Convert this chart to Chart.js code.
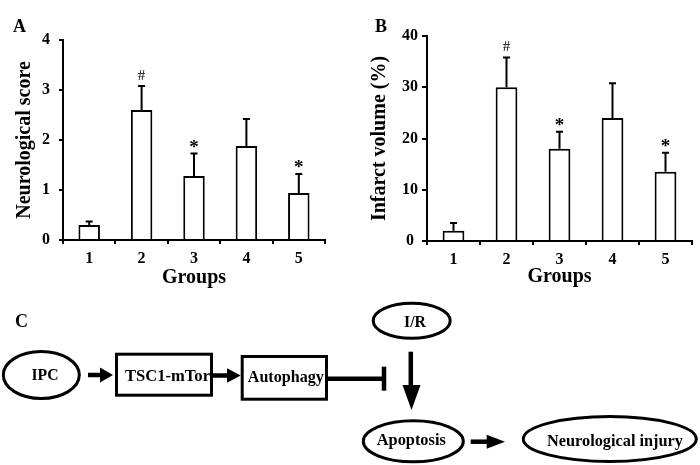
<!DOCTYPE html>
<html><head><meta charset="utf-8">
<script src="https://cdn.jsdelivr.net/npm/chart.js@4/dist/chart.umd.min.js"></script>
<style>
html,body{margin:0;padding:0;background:#fff;}
#wrap{position:relative;width:700px;height:465px;overflow:hidden;background:#fff;}
#chartA{position:absolute;left:0;top:0;}
#chartB{position:absolute;left:350px;top:0;}
#diagram{position:absolute;left:0;top:0;}
</style></head><body>
<div id="wrap">
<canvas id="chartA" width="340" height="300"></canvas>
<canvas id="chartB" width="350" height="300"></canvas>
<svg id="diagram" width="700" height="465" viewBox="0 0 700 465" font-family="'Liberation Serif','Times New Roman',serif" font-weight="bold">
  <text x="13" y="32" font-size="18">A</text>
  <text x="375" y="32" font-size="18">B</text>
  <text x="15" y="327" font-size="18">C</text>
  <g fill="none" stroke="#000" stroke-width="3">
    <ellipse cx="41.3" cy="375" rx="38" ry="23.5"/>
    <rect x="116.5" y="354.2" width="95" height="41"/>
    <rect x="242.2" y="356.5" width="84.3" height="42.7"/>
    <ellipse cx="411.7" cy="320.8" rx="38.5" ry="17.5"/>
    <ellipse cx="413.3" cy="441.3" rx="50" ry="20.5"/>
    <ellipse cx="609.8" cy="439" rx="86.5" ry="22.5"/>
  </g>
  <g stroke="#000" stroke-width="4.5">
    <line x1="88" y1="375" x2="102" y2="375"/>
    <line x1="213" y1="375.5" x2="229" y2="375.5"/>
    <line x1="328" y1="378.8" x2="384" y2="378.8"/>
    <line x1="384" y1="366.7" x2="384" y2="390.7"/>
    <line x1="410.8" y1="351.7" x2="410.8" y2="388"/>
    <line x1="470.7" y1="441.7" x2="489" y2="441.7"/>
  </g>
  <g fill="#000">
    <polygon points="100,367.5 113,375 100,382.5"/>
    <polygon points="227,368.3 240.7,375.5 227,382.7"/>
    <polygon points="402.5,385 420.5,385 411.5,410"/>
    <polygon points="486.7,434.7 505,441.7 486.7,448.7"/>
  </g>
  <g font-size="16" text-anchor="middle" fill="#000">
    <text x="45" y="380" textLength="27" lengthAdjust="spacingAndGlyphs">IPC</text>
    <text x="167.5" y="380.7" textLength="85" lengthAdjust="spacingAndGlyphs">TSC1-mTor</text>
    <text x="285.8" y="381.7" textLength="76" lengthAdjust="spacingAndGlyphs">Autophagy</text>
    <text x="415" y="327" textLength="22" lengthAdjust="spacingAndGlyphs">I/R</text>
    <text x="411.3" y="445" textLength="69" lengthAdjust="spacingAndGlyphs">Apoptosis</text>
    <text x="615" y="446" textLength="136" lengthAdjust="spacingAndGlyphs">Neurological injury</text>
  </g>
</svg>
</div>
<script>
// ---- data ----
const groups = ['1', '2', '3', '4', '5'];
const scoreMeans = [0.30, 2.60, 1.28, 1.88, 0.94];
const scoreErrs = [0.07, 0.48, 0.45, 0.54, 0.38];
const scoreMarks = ['', '#', '*', '', '*'];
const scoreTicks = [0, 1, 2, 3, 4];
const infarctMeans = [2.0, 30.0, 18.0, 24.0, 13.5];
const infarctErrs = [1.5, 5.8, 3.3, 6.8, 3.7];
const infarctMarks = ['', '#', '*', '', '*'];
const infarctTicks = [0, 10, 20, 30, 40];

const FAM = "'Liberation Serif','Times New Roman',serif";
Chart.defaults.font.family = FAM;
Chart.defaults.color = '#000';

const errPlugin = {
  id: 'errbars',
  afterDatasetsDraw(chart, args, opts) {
    const ctx = chart.ctx;
    const y = chart.scales.y;
    const meta = chart.getDatasetMeta(0);
    const means = chart.data.datasets[0].data;
    ctx.save();
    meta.data.forEach((bar, i) => {
      const top = y.getPixelForValue(means[i] + opts.errs[i]);
      ctx.strokeStyle = '#000';
      ctx.lineWidth = 2;
      ctx.beginPath();
      ctx.moveTo(bar.x, bar.y);
      ctx.lineTo(bar.x, top);
      ctx.moveTo(bar.x - 3.5, top);
      ctx.lineTo(bar.x + 3.5, top);
      ctx.stroke();
      const m = opts.marks[i];
      if (m) {
        ctx.font = m === '#' ? 'normal 15px ' + FAM : 'bold 19px ' + FAM;
        ctx.fillStyle = '#000';
        ctx.textAlign = 'center';
        ctx.textBaseline = 'alphabetic';
        const tm = ctx.measureText(m);
        const h = tm.actualBoundingBoxAscent + tm.actualBoundingBoxDescent;
        const cy = top - (m === '#' ? 11.5 : 10);
        ctx.fillText(m, bar.x, cy + tm.actualBoundingBoxAscent - h / 2);
      }
    });
    ctx.restore();
  }
};

function makeChart(id, means, errs, marks, ticks, yTitle, cfg) {
  return new Chart(document.getElementById(id), {
    type: 'bar',
    data: {
      labels: groups,
      datasets: [{
        data: means,
        backgroundColor: '#fff',
        borderColor: '#000',
        borderWidth: 2,
        borderSkipped: 'start',
        barPercentage: 0.41,
        categoryPercentage: 1.0
      }]
    },
    plugins: [errPlugin],
    options: {
      responsive: false,
      animation: false,
      devicePixelRatio: 1,
      layout: { padding: { left: 0, top: cfg.padTop, right: cfg.padRight, bottom: 0 } },
      plugins: {
        legend: { display: false },
        tooltip: { enabled: false },
        errbars: { errs: errs, marks: marks }
      },
      scales: {
        x: {
          afterFit(s) { s.height = cfg.xHeight; },
          grid: { offset: true, drawOnChartArea: false, drawTicks: true, tickLength: 4, color: '#000', lineWidth: 2 },
          border: { display: true, color: '#000', width: 2 },
          ticks: { font: { size: 16, weight: 'bold' }, padding: 5, color: '#000' },
          title: { display: true, text: 'Groups', font: { size: 20, weight: 'bold' }, padding: { top: 0, bottom: cfg.xTitlePad }, color: '#000' }
        },
        y: {
          min: ticks[0],
          max: ticks[ticks.length - 1],
          afterFit(s) { s.width = cfg.yWidth; },
          afterBuildTicks(s) { s.ticks = ticks.map(v => ({ value: v })); },
          grid: { drawOnChartArea: false, drawTicks: true, tickLength: cfg.tickLen, color: '#000', lineWidth: 2 },
          border: { display: true, color: '#000', width: 2 },
          ticks: { font: { size: 16, weight: 'bold' }, padding: cfg.tickPad, color: '#000', crossAlign: 'center' },
          title: { display: true, text: yTitle, font: { size: 20, weight: 'bold' }, padding: { top: cfg.yTitlePad, bottom: 0 }, color: '#000' }
        }
      }
    }
  });
}

makeChart('chartA', scoreMeans, scoreErrs, scoreMarks, scoreTicks, 'Neurological score',
  { padTop: 40, padRight: 15, xHeight: 60, yWidth: 63, tickLen: 4, tickPad: 9, xTitlePad: 10, yTitlePad: 13 });
makeChart('chartB', infarctMeans, infarctErrs, infarctMarks, infarctTicks, 'Infarct volume (%)',
  { padTop: 36, padRight: 8, xHeight: 59, yWidth: 77, tickLen: 5, tickPad: 4, xTitlePad: 11, yTitlePad: 18 });
</script>
</body></html>
